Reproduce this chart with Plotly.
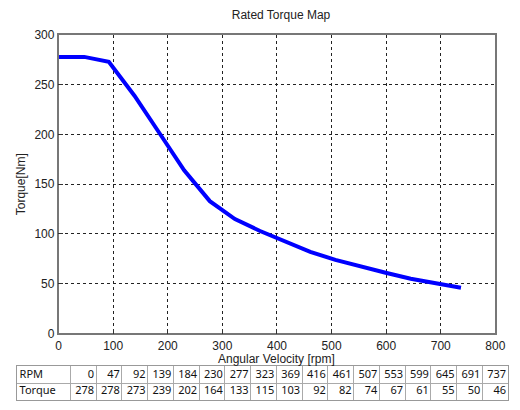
import plotly.graph_objects as go

rpm = [0, 47, 92, 139, 184, 230, 277, 323, 369, 416, 461, 507, 553, 599, 645, 691, 737]
torque = [278, 278, 273, 239, 202, 164, 133, 115, 103, 92, 82, 74, 67, 61, 55, 50, 46]
row_labels = ["RPM", "Torque"]
x_ticks = [0, 100, 200, 300, 400, 500, 600, 700, 800]
y_ticks = [0, 50, 100, 150, 200, 250, 300]

W, H = 520, 410
fig = go.Figure()
fig.add_trace(go.Scatter(x=rpm, y=torque, mode="lines",
                         line=dict(color="#0000ff", width=4), showlegend=False))

lab_font = dict(family="Liberation Sans, Arial", size=12, color="#222")
axis_common = dict(showline=True, linecolor="#777", linewidth=1.5, mirror=True,
                   ticks="inside", ticklen=5, tickcolor="#333",
                   showgrid=True, gridcolor="#222", griddash="dot", gridwidth=1,
                   zeroline=False, tickfont=lab_font)

# ---- table built on its own axes (column/row units) ----
tab_left, tab_right = 14, 518
first_w = 55.0
ncol = len(rpm)
col_w = (tab_right - tab_left - first_w) / ncol
bounds = [0, first_w] + [first_w + col_w * (i + 1) for i in range(ncol)]
tab_font = dict(family="Noto Sans, Open Sans", size=11, color="#111")

fig.add_trace(go.Scatter(x=[3, 3], y=[1.5, 0.5], text=row_labels, mode="text",
                         textposition="middle right", textfont=tab_font,
                         xaxis="x2", yaxis="y2", showlegend=False, hoverinfo="skip"))
val_x = [bounds[i + 2] - 2 for i in range(ncol)]
fig.add_trace(go.Scatter(x=val_x, y=[1.5] * ncol, text=[str(v) for v in rpm], mode="text",
                         textposition="middle left", textfont=tab_font,
                         xaxis="x2", yaxis="y2", showlegend=False, hoverinfo="skip"))
fig.add_trace(go.Scatter(x=val_x, y=[0.5] * ncol, text=[str(v) for v in torque], mode="text",
                         textposition="middle left", textfont=tab_font,
                         xaxis="x2", yaxis="y2", showlegend=False, hoverinfo="skip"))

tab_axis = dict(showline=True, linecolor="#999", linewidth=1, mirror=True,
                showgrid=True, gridcolor="#aaa", gridwidth=1, zeroline=False,
                showticklabels=False, ticks="", fixedrange=True)

fig.update_layout(
    width=W, height=H, margin=dict(l=0, r=0, t=0, b=0),
    paper_bgcolor="white", plot_bgcolor="white",
    xaxis=dict(domain=[57 / W, 505 / W], range=[0, 800], tickvals=x_ticks, **axis_common),
    yaxis=dict(domain=[1 - 338 / H, 1 - 29 / H], range=[0, 300], tickvals=y_ticks, **axis_common),
    xaxis2=dict(domain=[tab_left / W, tab_right / W], range=[0, bounds[-1]],
                tickvals=bounds, anchor="y2", **tab_axis),
    yaxis2=dict(domain=[1 - 407 / H, 1 - 372 / H], range=[0, 2],
                tickvals=[0, 1, 2], anchor="x2", **tab_axis),
    title=dict(text="Rated Torque Map", x=281 / W, xanchor="center", y=1 - 15 / H, yanchor="middle",
               font=lab_font),
    annotations=[
        dict(text="Angular Velocity [rpm]", xref="paper", yref="paper",
             x=281 / W, y=1 - 364.5 / H, xanchor="center", yanchor="middle",
             showarrow=False, font=lab_font),
        dict(text="Torque[Nm]", xref="paper", yref="paper",
             x=18 / W, y=1 - 184 / H, xanchor="center", yanchor="middle",
             textangle=-90, showarrow=False, font=lab_font),
    ],
)

fig.write_html("out.html")
